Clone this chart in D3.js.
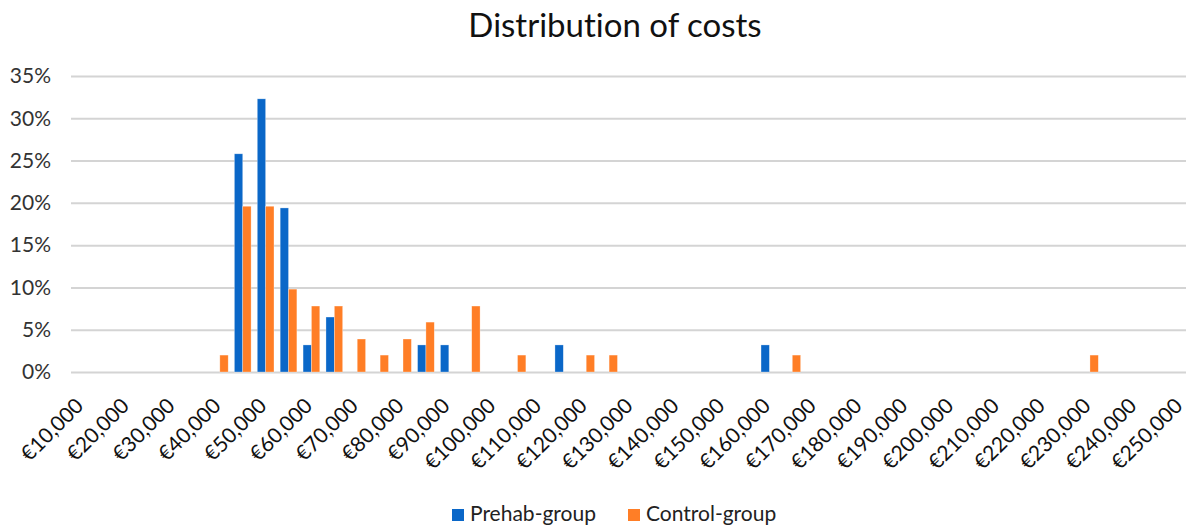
<!DOCTYPE html>
<html>
<head>
<meta charset="utf-8">
<script src="https://cdn.jsdelivr.net/npm/d3@7"></script>
<style>
  html, body { margin: 0; padding: 0; background: #fff; }
  svg { display: block; font-family: Lato, "Open Sans", sans-serif; font-variant-ligatures: none; }
</style>
</head>
<body>
<svg id="chart" width="1186" height="528"></svg>
<script>
// Cost bins (€5,000 steps), labelled every other bin
const bins = d3.range(10000, 250001, 5000);

// Share of patients per cost bin (%)
const prehab = [
  0, 0, 0, 0, 0, 0, 0, 25.8, 32.3, 19.4,
  3.2, 6.5, 0, 0, 0, 3.2, 3.2, 0, 0, 0,
  0, 3.2, 0, 0, 0, 0, 0, 0, 0, 0,
  3.2, 0, 0, 0, 0, 0, 0, 0, 0, 0,
  0, 0, 0, 0, 0, 0, 0, 0, 0
];
const control = [
  0, 0, 0, 0, 0, 0, 2.0, 19.6, 19.6, 9.8,
  7.8, 7.8, 3.9, 2.0, 3.9, 5.9, 0, 7.8, 0, 2.0,
  0, 0, 2.0, 2.0, 0, 0, 0, 0, 0, 0,
  0, 2.0, 0, 0, 0, 0, 0, 0, 0, 0,
  0, 0, 0, 0, 2.0, 0, 0, 0, 0
];
const yTicks = [0, 5, 10, 15, 20, 25, 30, 35];
const seriesNames = ["Prehab-group", "Control-group"];
const seriesColors = ["#0A67C8", "#FF7E26"];

const svg = d3.select("#chart");
const plot = { left: 71, right: 1193, top: 76, bottom: 372 };

const x = d3.scaleBand().domain(bins).range([plot.left, plot.right]).paddingInner(0.27).paddingOuter(0.135);
const xs = d3.scaleBand().domain([0, 1]).range([0, x.bandwidth()]);
const y = d3.scaleLinear().domain([0, 35]).range([plot.bottom, plot.top]);

// Title
svg.append("text")
  .attr("x", 615).attr("y", 37)
  .attr("text-anchor", "middle")
  .attr("font-size", 33)
  .attr("fill", "#111")
  .text("Distribution of costs");

// Horizontal gridlines and percentage labels
const yAxis = d3.axisLeft(y).tickValues(yTicks).tickSize(-(plot.right - plot.left)).tickFormat(d => d + "%");
const gy = svg.append("g").attr("transform", `translate(${plot.left},0)`).call(yAxis);
gy.select(".domain").remove();
gy.selectAll(".tick line").attr("stroke", "#d4d4d4").attr("stroke-width", 2);
gy.selectAll(".tick text").attr("x", -20).attr("font-size", 21).attr("fill", "#333").attr("font-family", "Lato, sans-serif");

// Bars
const groups = svg.append("g").selectAll("g")
  .data(bins.map((b, i) => ({ bin: b, vals: [prehab[i], control[i]] })))
  .join("g")
  .attr("transform", d => `translate(${x(d.bin)},0)`);
groups.selectAll("rect")
  .data(d => d.vals.map((v, k) => ({ v, k })).filter(e => e.v > 0))
  .join("rect")
  .attr("x", e => xs(e.k))
  .attr("width", xs.bandwidth())
  .attr("y", e => y(e.v))
  .attr("height", e => y(0) - y(e.v))
  .attr("fill", e => seriesColors[e.k])
  .attr("stroke", "#fff")
  .attr("stroke-opacity", 0.5)
  .attr("stroke-width", 0.6);

// Category axis labels, rotated
const xAxis = d3.axisBottom(x).tickValues(bins.filter((b, i) => i % 2 === 0))
  .tickSize(0).tickFormat(d => "€" + d3.format(",")(d));
const gx = svg.append("g").attr("transform", `translate(0,${plot.bottom})`).call(xAxis);
gx.select(".domain").remove();
gx.selectAll(".tick text")
  .attr("font-size", 21)
  .attr("fill", "#111")
  .attr("font-family", "Lato, sans-serif")
  .attr("text-anchor", "end")
  .attr("dy", "0.35em")
  .attr("y", 0)
  .attr("transform", "translate(-3,30) rotate(-45)");

// Legend
const legend = svg.append("g").attr("transform", "translate(452,509)");
const items = legend.selectAll("g").data(seriesNames).join("g")
  .attr("transform", (d, i) => `translate(${i * 176},0)`);
items.append("rect").attr("width", 12).attr("height", 12).attr("fill", (d, i) => seriesColors[i]);
items.append("text").attr("x", 18).attr("y", 12).attr("font-size", 21).attr("fill", "#222").text(d => d);
</script>
</body>
</html>
